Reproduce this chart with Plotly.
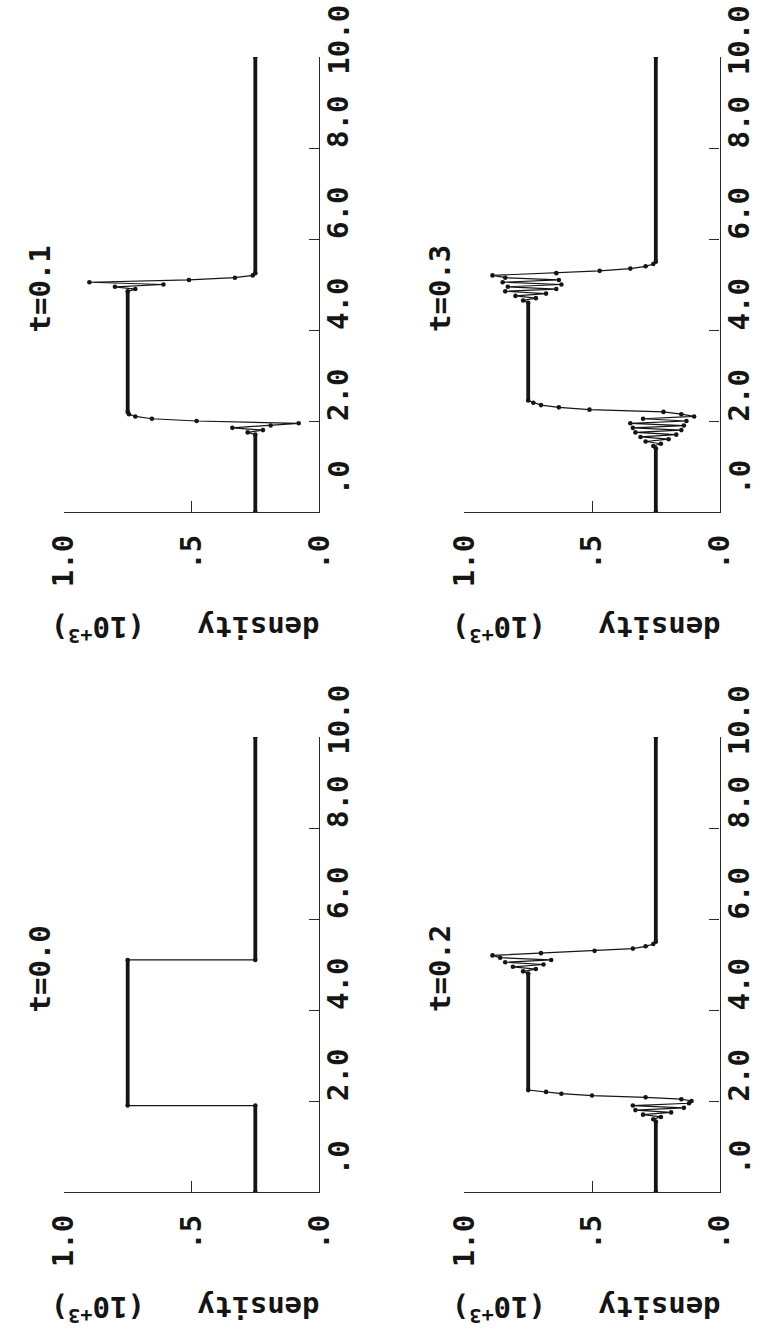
import plotly.graph_objects as go

# ---------------- data ----------------
POS_TICKS = [0, 2, 4, 6, 8, 10]
POS_LABELS = [".0", "2.0", "4.0", "6.0", "8.0", "10.0"]
DENS_TICKS = [1.0, 0.5, 0.0]
DENS_LABELS = ["1.0", ".5", ".0"]

panel_titles = ["t=0.0", "t=0.1", "t=0.2", "t=0.3"]

# t = 0.0
t00_x = [0.0, 1.9, 1.9, 5.1, 5.1, 10.0]
t00_rho = [0.25, 0.25, 0.75, 0.75, 0.25, 0.25]
t00_flat_a = [0.0, 1.9, 5.1]
t00_flat_b = [1.9, 5.1, 10.0]
t00_flat_rho = [0.25, 0.75, 0.25]

# t = 0.1
t01_x = [0.0, 1.70, 1.75, 1.80, 1.85, 1.90, 1.95, 2.00, 2.05, 2.10, 2.15, 2.20,
         4.85, 4.90, 4.95, 5.00, 5.05, 5.10, 5.15, 5.20, 5.25, 10.0]
t01_rho = [0.25, 0.25, 0.28, 0.22, 0.34, 0.19, 0.08, 0.48, 0.655, 0.72, 0.745, 0.75,
           0.75, 0.72, 0.80, 0.61, 0.90, 0.51, 0.33, 0.26, 0.25, 0.25]
t01_flat_a = [0.0, 2.20, 5.25]
t01_flat_b = [1.70, 4.85, 10.0]
t01_flat_rho = [0.25, 0.75, 0.25]

# t = 0.2
t02_x = [0.0, 1.55, 1.60, 1.65, 1.70, 1.75, 1.80, 1.85, 1.90, 1.95, 2.00, 2.04, 2.08,
         2.12, 2.16, 2.20, 2.24,
         4.80, 4.85, 4.90, 4.95, 5.00, 5.05, 5.10, 5.15, 5.20, 5.25, 5.30, 5.35, 5.40,
         5.45, 5.50, 10.0]
t02_rho = [0.25, 0.25, 0.26, 0.23, 0.30, 0.19, 0.33, 0.14, 0.34, 0.12, 0.11, 0.15, 0.29,
           0.50, 0.62, 0.68, 0.75,
           0.75, 0.77, 0.72, 0.81, 0.69, 0.84, 0.66, 0.86, 0.89, 0.70, 0.49, 0.34, 0.29,
           0.26, 0.25, 0.25]
t02_flat_a = [0.0, 2.24, 5.50]
t02_flat_b = [1.55, 4.80, 10.0]
t02_flat_rho = [0.25, 0.75, 0.25]

# t = 0.3
t03_x = [0.0, 1.40, 1.45, 1.50, 1.55, 1.60, 1.65, 1.70, 1.75, 1.80, 1.85, 1.90, 1.95,
         2.00, 2.05, 2.10, 2.15, 2.20, 2.25, 2.30, 2.35, 2.40, 2.45,
         4.60, 4.65, 4.70, 4.75, 4.80, 4.85, 4.90, 4.95, 5.00, 5.05, 5.10, 5.15, 5.20,
         5.25, 5.30, 5.35, 5.40, 5.45, 5.50, 10.0]
t03_rho = [0.25, 0.25, 0.26, 0.23, 0.29, 0.20, 0.31, 0.17, 0.33, 0.15, 0.34, 0.14, 0.35,
           0.13, 0.30, 0.10, 0.15, 0.22, 0.51, 0.63, 0.70, 0.73, 0.75,
           0.75, 0.77, 0.72, 0.80, 0.68, 0.84, 0.64, 0.83, 0.62, 0.85, 0.63, 0.84, 0.89,
           0.64, 0.47, 0.35, 0.29, 0.26, 0.25, 0.25]
t03_flat_a = [0.0, 2.45, 5.50]
t03_flat_b = [1.40, 4.60, 10.0]
t03_flat_rho = [0.25, 0.75, 0.25]

panels = [
    (t00_x, t00_rho, t00_flat_a, t00_flat_b, t00_flat_rho),
    (t01_x, t01_rho, t01_flat_a, t01_flat_b, t01_flat_rho),
    (t02_x, t02_rho, t02_flat_a, t02_flat_b, t02_flat_rho),
    (t03_x, t03_rho, t03_flat_a, t03_flat_b, t03_flat_rho),
]

# ---------------- layout geometry ----------------
W, H = 771, 1333
# panel order: t=0.0 bottom-left, t=0.1 top-left, t=0.2 bottom-right, t=0.3 top-right
col_px = {"L": (48, 315), "R": (467, 734)}
row_px = {"T": (57, 512), "B": (737, 1192)}
placement = [("L", "B"), ("L", "T"), ("R", "B"), ("R", "T")]

FONT = "DejaVu Sans Mono"
FS = 29
CHAR = 17.5
INK = "#151515"
AX = "#2a2a2a"
tfont = dict(family=FONT, size=FS, color=INK, weight="bold")

fig = go.Figure()
annotations = []
layout = dict(
    width=W, height=H, margin=dict(l=0, r=0, t=0, b=0),
    paper_bgcolor="white", plot_bgcolor="white", showlegend=False,
)

for i, (px, prho, fa, fb, frho) in enumerate(panels):
    n = i + 1
    xa = "x" if n == 1 else f"x{n}"
    ya = "y" if n == 1 else f"y{n}"
    c, r = placement[i]
    x0, x1 = col_px[c]
    y0, y1 = row_px[r]
    xdom = [x0 / W, x1 / W]
    ydom = [(H - y1) / H, (H - y0) / H]

    # thick flat parts (dense grid points)
    fx, fy = [], []
    for a, b, v in zip(fa, fb, frho):
        fx += [v, v, None]
        fy += [a, b, None]
    fig.add_trace(go.Scatter(x=fx, y=fy, mode="lines", xaxis=xa, yaxis=ya,
                             line=dict(color=INK, width=3.8), hoverinfo="skip"))
    # full curve with grid-point dots
    fig.add_trace(go.Scatter(x=prho, y=px, mode="lines+markers", xaxis=xa, yaxis=ya,
                             line=dict(color=INK, width=1.2),
                             marker=dict(color=INK, size=4.6)))

    layout["xaxis" if n == 1 else f"xaxis{n}"] = dict(
        domain=xdom, anchor=ya, range=[1.0, 0.0],
        showgrid=False, zeroline=False, showline=True, linecolor=AX, linewidth=1.4,
        ticks="inside", ticklen=11, tickwidth=1.4, tickcolor=AX,
        tickvals=DENS_TICKS, ticktext=DENS_LABELS, tickangle=-90,
        tickfont=tfont, ticklabelstandoff=10,
    )
    layout["yaxis" if n == 1 else f"yaxis{n}"] = dict(
        domain=ydom, anchor=xa, range=[0, 10], side="right",
        showgrid=False, zeroline=False, showline=True, linecolor=AX, linewidth=1.4,
        ticks="inside", ticklen=10, tickwidth=1.4, tickcolor=AX,
        tickvals=POS_TICKS, showticklabels=False,
    )

    # position tick labels (rotated, placed beside the axis)
    for tv, tl in zip(POS_TICKS, POS_LABELS):
        annotations.append(dict(
            x=(x1 + 20.5) / W, xref="paper", y=tv, yref=ya, text=tl, textangle=-90,
            xanchor="center", yanchor="middle", yshift=52 - len(tl) * CHAR / 2,
            showarrow=False, font=tfont,
        ))
    # panel title
    annotations.append(dict(
        x=(x0 - 25.5) / W, xref="paper", y=4.0, yref=ya, text=panel_titles[i],
        textangle=-90, xanchor="center", yanchor="middle", yshift=41,
        showarrow=False, font=tfont,
    ))
    # density axis title (upside down)
    ty = y1 + 117
    annotations.append(dict(
        x=(x0 + 127) / W, xref="paper", y=(H - ty) / H, yref="paper",
        text="density\u00a0\u00a0\u00a0(10<sup>+3</sup>)", textangle=180,
        xanchor="center", yanchor="middle", showarrow=False, font=tfont,
    ))

layout["annotations"] = annotations
fig.update_layout(**layout)
fig.write_html("out.html")
